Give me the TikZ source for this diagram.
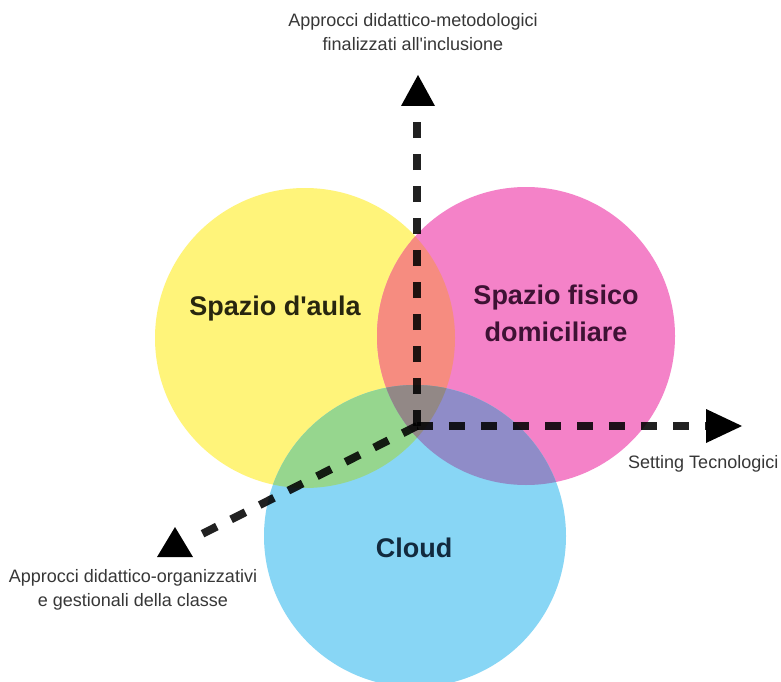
\documentclass[tikz,border=0pt]{standalone}
\usepackage{fontspec}
\setmainfont{Liberation Sans}
\definecolor{cyellow}{RGB}{255,244,122}
\definecolor{cpink}{RGB}{244,130,200}
\definecolor{cblue}{RGB}{136,214,245}
\definecolor{csalmon}{RGB}{246,140,128}
\definecolor{cgreen}{RGB}{150,214,142}
\definecolor{cpurple}{RGB}{143,140,200}
\definecolor{cgray}{RGB}{146,136,134}
\definecolor{axtext}{RGB}{55,55,55}
\tikzset{
  venn/.style={circle, inner sep=0pt, minimum size=#1},
  axisline/.style={line width=8pt, dash pattern=on 16pt off 16pt, black, opacity=0.87},
  axlabel/.style={font=\fontsize{18}{24}\selectfont, text=axtext, align=center, inner sep=0pt},
  setlabel/.style={font=\fontsize{27}{37}\selectfont\bfseries, align=center, inner sep=0pt},
  tiphead/.style={fill=black}
}
\begin{document}
\begin{tikzpicture}[x=1pt,y=-1pt]
\useasboundingbox (0,0) rectangle (781,682);
\fill[white] (0,0) rectangle (781,682);
\begin{scope}
\clip (0,0) rectangle (781,682);
\node[venn=300pt, fill=cyellow] (aula) at (305,338) {};
\node[venn=298pt, fill=cpink] (domi) at (526,336) {};
\node[venn=302pt, fill=cblue] (cloud) at (415,536) {};
% overlaps
\begin{scope}
  \clip (305,338) circle[radius=150pt];
  \fill[csalmon] (526,336) circle[radius=149pt];
  \fill[cgreen] (415,536) circle[radius=151pt];
\end{scope}
\begin{scope}
  \clip (526,336) circle[radius=149pt];
  \fill[cpurple] (415,536) circle[radius=151pt];
\end{scope}
\begin{scope}
  \clip (305,338) circle[radius=150pt];
  \clip (526,336) circle[radius=149pt];
  \fill[cgray] (415,536) circle[radius=151pt];
\end{scope}
\end{scope}
% axes
\coordinate (O) at (417,426);
\coordinate (topend) at (417,105);
\coordinate (rightend) at (707,426);
\coordinate (dlend) at (198,536);
\draw[axisline] (O) -- (topend);
\draw[axisline] (O) -- (rightend);
\draw[axisline] (O) -- (dlend);
\fill[tiphead] (418,75) -- (435,106) -- (401,106) -- cycle;
\fill[tiphead] (742,426) -- (706,409) -- (706,443) -- cycle;
\fill[tiphead] (175,527) -- (193,557) -- (157,557) -- cycle;
% set labels
\node[setlabel, text={rgb,255:red,40;green,38;blue,15}] (laula) at (275,309) {Spazio d\textquotesingle aula};
\node[setlabel, text={rgb,255:red,62;green,18;blue,52}] (ldomi) at (556,313) {Spazio fisico\\domiciliare};
\node[setlabel, text={rgb,255:red,18;green,42;blue,62}] (lcloud) at (414,548) {Cloud};
% axis labels
\node[axlabel] (ltop) at (413,32) {Approcci didattico-metodologici\\finalizzati all\textquotesingle inclusione};
\node[axlabel, anchor=west] (lright) at (628,464) {Setting Tecnologici};
\node[axlabel] (lleft) at (133,590) {Approcci didattico-organizzativi\\e gestionali della classe};
\end{tikzpicture}
\end{document}
